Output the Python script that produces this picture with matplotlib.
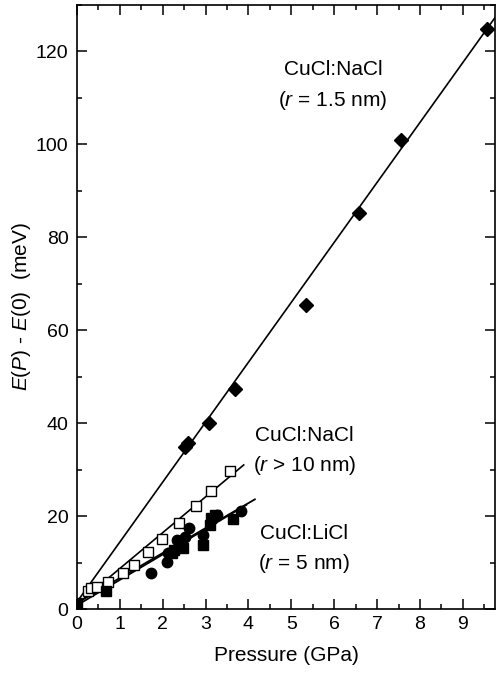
import matplotlib
matplotlib.use("Agg")
import matplotlib.pyplot as plt
from matplotlib.ticker import MultipleLocator

plt.rcParams['font.family'] = ['Liberation Sans', 'DejaVu Sans']
plt.rcParams['mathtext.fontset'] = 'custom'
plt.rcParams['mathtext.rm'] = 'Liberation Sans'
plt.rcParams['mathtext.it'] = 'Liberation Sans:italic'

# CuCl:NaCl (r = 1.5 nm) - filled diamonds
dia_x = [2.53, 2.60, 3.08, 3.68, 5.35, 6.58, 7.55, 9.56]
dia_y = [34.8, 35.8, 40.1, 47.4, 65.4, 85.1, 100.9, 124.8]
# CuCl:NaCl (r > 10 nm) - open squares
osq_x = [0.26, 0.32, 0.47, 0.72, 1.08, 1.33, 1.66, 1.99, 2.38, 2.77, 3.12, 3.58]
osq_y = [3.9, 4.5, 4.7, 5.9, 7.8, 9.5, 12.3, 15.0, 18.5, 22.2, 25.5, 29.7]
# CuCl:LiCl (r = 5 nm) - filled squares
fsq_x = [0.0, 0.69, 2.21, 2.26, 2.48, 2.93, 3.10, 3.12, 3.22, 3.63]
fsq_y = [1.3, 3.9, 12.0, 12.7, 13.1, 13.8, 18.1, 19.5, 20.3, 19.3]
# CuCl:LiCl (r = 5 nm) - filled circles
fci_x = [1.72, 2.10, 2.13, 2.34, 2.52, 2.62, 2.93, 3.26, 3.82]
fci_y = [7.7, 10.1, 12.0, 14.9, 15.5, 17.4, 15.9, 20.3, 21.1]

# fitted lines (end points)
fit_dia_x = [0.0, 9.77]
fit_dia_y = [1.5, 127.5]
fit_osq_x = [0.0, 3.89]
fit_osq_y = [1.0, 31.0]
fit_li1_x = [0.0, 4.15]
fit_li1_y = [1.3, 23.6]
fit_li2_x = [0.0, 3.95]
fit_li2_y = [0.8, 22.4]

labels = [
    ("CuCl:NaCl", 5.97, 116.0),
    (r"($\mathit{r}$ = 1.5 nm)", 5.97, 109.5),
    ("CuCl:NaCl", 5.31, 37.3),
    (r"($\mathit{r}$ > 10 nm)", 5.31, 30.8),
    ("CuCl:LiCl", 5.29, 16.2),
    (r"($\mathit{r}$ = 5 nm)", 5.29, 9.9),
]

fig = plt.figure(figsize=(4.96, 6.79), dpi=100)
ax = fig.add_axes([0.155, 0.103, 0.843, 0.890])

ax.plot(fit_dia_x, fit_dia_y, color='black', lw=1.2, zorder=2)
ax.plot(fit_osq_x, fit_osq_y, color='black', lw=1.2, zorder=2)
ax.plot(fit_li1_x, fit_li1_y, color='black', lw=1.3, zorder=2)
ax.plot(fit_li2_x, fit_li2_y, color='black', lw=1.3, zorder=2)

ax.plot(dia_x, dia_y, 'D', color='black', ms=7.5, zorder=3)
ax.plot(osq_x, osq_y, 's', mfc='white', mec='black', mew=1.0, ms=7, zorder=3)
ax.plot(fsq_x, fsq_y, 's', color='black', ms=7, zorder=3)
ax.plot(fci_x, fci_y, 'o', color='black', ms=7.5, zorder=3)

for txt, x, y in labels:
    ax.text(x, y, txt, ha='center', va='center', fontsize=15)

ax.set_xlim(0, 9.75)
ax.set_ylim(0, 130)
ax.xaxis.set_major_locator(MultipleLocator(1))
ax.xaxis.set_minor_locator(MultipleLocator(0.5))
ax.yaxis.set_major_locator(MultipleLocator(20))
ax.yaxis.set_minor_locator(MultipleLocator(10))
ax.tick_params(which='both', direction='in', top=True, right=True, width=1.1, labelsize=14)
ax.tick_params(which='major', length=7)
ax.tick_params(which='minor', length=3.5)
ax.tick_params(axis='x', which='major', pad=5)
ax.tick_params(axis='y', which='major', pad=6)
for s in ax.spines.values():
    s.set_linewidth(1.2)

ax.set_xlabel("Pressure (GPa)", fontsize=15, labelpad=9)
ax.set_ylabel(r"$\mathit{E(P)}$ - $\mathit{E(0)}$  (meV)", fontsize=15, labelpad=2)

fig.savefig("out.png", dpi=100)
